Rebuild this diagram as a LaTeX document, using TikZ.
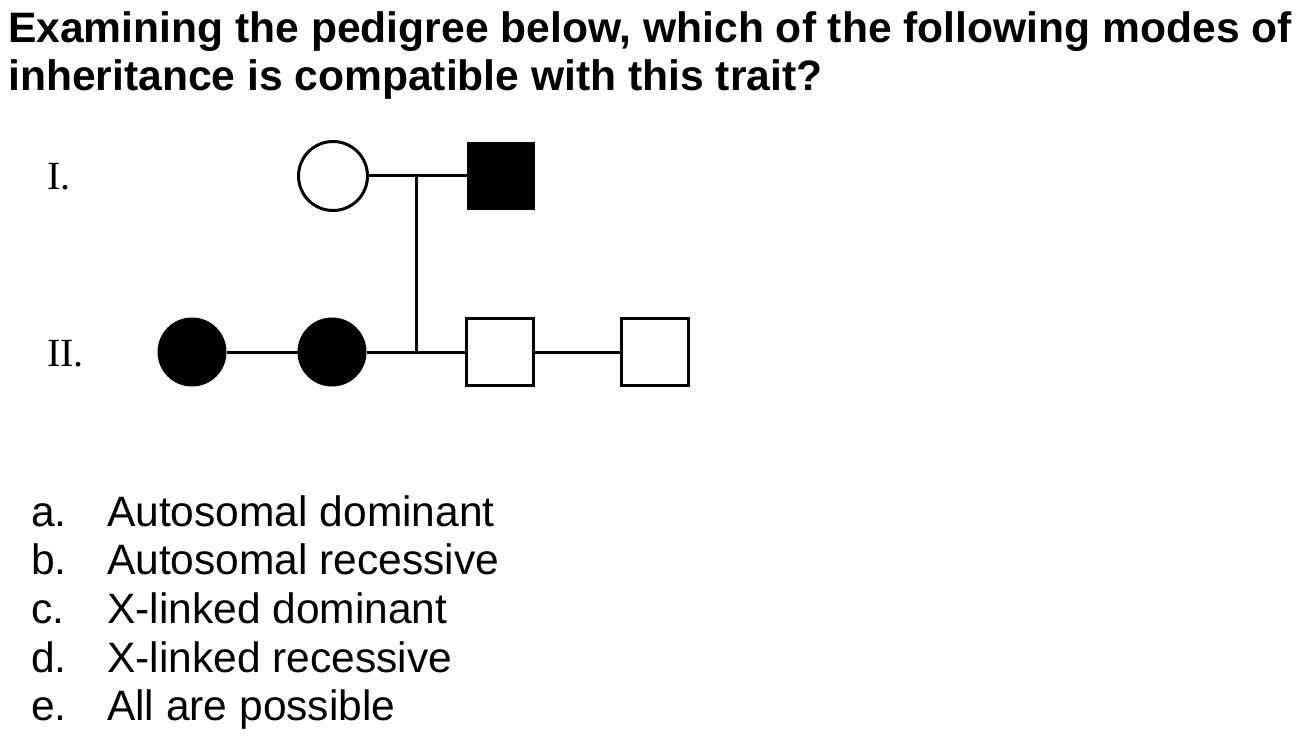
\documentclass[tikz,border=0pt]{standalone}
\usepackage{fontspec}
\setmainfont{Liberation Sans}
\newfontfamily\romanfont{Liberation Serif}
\begin{document}
\begin{tikzpicture}[x=1pt,y=-1pt,
  title/.style={anchor=base west,inner sep=0pt,font=\fontsize{42.6}{48}\selectfont\bfseries},
  opt/.style={anchor=base west,inner sep=0pt,font=\fontsize{42.5}{48}\selectfont},
  gen/.style={anchor=base west,inner sep=0pt,font=\fontsize{40}{46}\romanfont},
  female/.style={circle,draw=black,line width=3pt,minimum size=69pt,inner sep=0pt},
  male/.style={rectangle,draw=black,line width=3pt,minimum size=67pt,inner sep=0pt},
  affected/.style={fill=black},
  unaffected/.style={fill=white},
  link/.style={draw=black,line width=3pt}]
\useasboundingbox[fill=white] (0,0) rectangle (1309,738);

\node[title] (t1) at (8,43) {Examining the pedigree below, which of the following modes of};
\node[title] (t2) at (8,91) {inheritance is compatible with this trait?};

\node[gen] (g1) at (47,190) {I.};
\node[gen] (g2) at (47,366) {II.};

\node[female,unaffected] (I1) at (333,176) {};
\node[male,affected,minimum size=65pt] (I2) at (501,176) {};
\coordinate (m1) at (416,176);
\coordinate (m2) at (416,352);

\node[female,affected,minimum size=66pt] (II1) at (192,352) {};
\node[female,affected,minimum size=66pt] (II2) at (332,352) {};
\node[male,unaffected] (II3) at (500,352) {};
\node[male,unaffected] (II4) at (655,352) {};

\draw[link] (I1) -- (I2);
\draw[link] (m1) -- (m2);
\draw[link] (II1) -- (II2);
\draw[link] (II2) -- (II3);
\draw[link] (II3) -- (II4);

\node[opt] (la) at (31,526) {a.};
\node[opt] (oa) at (107,526) {Autosomal dominant};
\node[opt] (lb) at (31,574) {b.};
\node[opt] (ob) at (107,574) {Autosomal recessive};
\node[opt] (lc) at (31,623) {c.};
\node[opt] (oc) at (107,623) {X-linked dominant};
\node[opt] (ld) at (31,672) {d.};
\node[opt] (od) at (107,672) {X-linked recessive};
\node[opt] (le) at (31,720) {e.};
\node[opt] (oe) at (107,720) {All are possible};
\end{tikzpicture}
\end{document}
